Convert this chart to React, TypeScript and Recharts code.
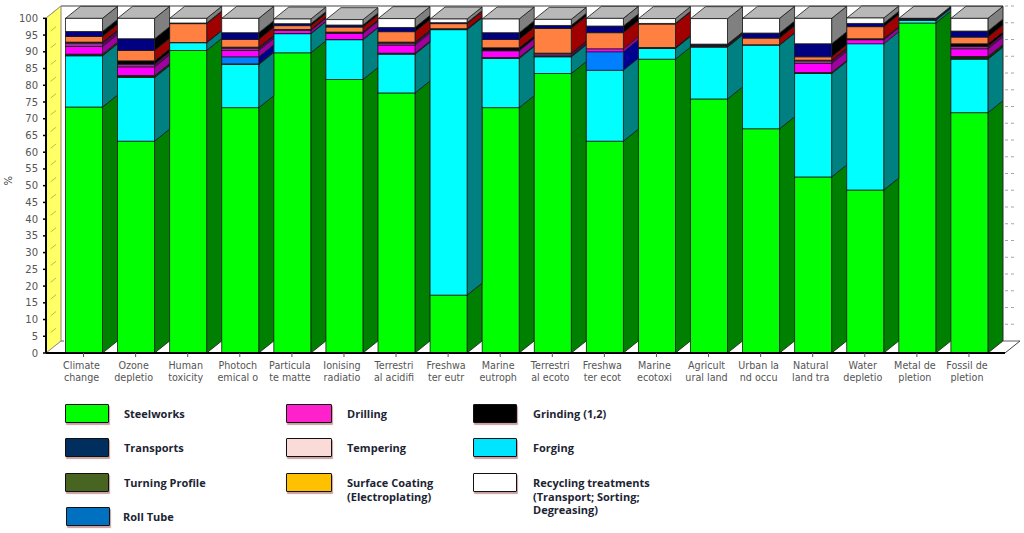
import { BarChart, Bar, XAxis, YAxis, Customized } from 'recharts'

const categories = [
  'Climate\nchange', 'Ozone\ndepletio', 'Human\ntoxicity', 'Photoch\nemical o', 'Particula\nte matte', 'Ionising\nradiatio',
  'Terrestri\nal acidifi', 'Freshwa\nter eutr', 'Marine\neutroph', 'Terrestri\nal ecoto', 'Freshwa\nter ecot', 'Marine\necotoxi',
  'Agricult\nural land', 'Urban la\nnd occu', 'Natural\nland tra', 'Water\ndepletio', 'Metal de\npletion', 'Fossil de\npletion',
]

const steelworks = [73.5, 63.3, 90.4, 73.3, 89.7, 81.7, 77.7, 17.3, 73.3, 83.5, 63.3, 87.8, 75.9, 67, 52.6, 48.7, 98.6, 71.8]
const forging = [15.3, 19, 2.3, 12.9, 5.7, 11.9, 11.6, 79.3, 14.7, 5, 21.2, 3.2, 15.5, 25, 30.9, 43.7, 0.8, 16]
const turning = [0.5, 0.6, 0, 0.2, 0.1, 0.1, 0.3, 0.2, 0.3, 0.2, 0, 0.2, 0, 0, 0.3, 0, 0, 0.8]
const rollTube = [0, 0, 0, 2.1, 0, 0, 0, 0, 0, 0, 5.5, 0, 0, 0, 0, 0, 0, 0]
const drilling = [2.3, 2.6, 0, 1.9, 0.9, 1.8, 2.4, 0, 2, 0.1, 0.9, 0, 0, 0, 2.7, 1.2, 0, 2.3]
const tempering = [1, 0.8, 0, 0.7, 0.2, 0.3, 0.6, 0, 0.2, 0.6, 0, 0, 0.3, 0, 0.8, 0.2, 0, 0.7]
const grinding = [0.3, 1, 0.1, 0.3, 0.1, 0.1, 0.3, 0.1, 0.7, 0.2, 0, 0.1, 0.3, 0.1, 0.2, 0.1, 0.2, 0.8]
const coating = [1.7, 3.1, 5.6, 2.3, 1.1, 1.5, 3.1, 1.5, 2.5, 7.4, 4.8, 7, 0, 2, 1, 3.6, 0, 2]
const transports = [1.5, 3.5, 0.2, 2, 0.6, 0.6, 1.3, 0.3, 2, 0.9, 2, 0.2, 0.3, 1.5, 3.9, 1, 0.3, 1.8]
const recycling = [3.9, 6.1, 1.4, 4.3, 1.4, 1.6, 2.6, 1.1, 4.1, 1.8, 2.3, 1.4, 7.6, 4.4, 7.6, 1.6, 0.1, 3.8]

const yTicks = [0, 5, 10, 15, 20, 25, 30, 35, 40, 45, 50, 55, 60, 65, 70, 75, 80, 85, 90, 95, 100]

const seriesList = [
  { key: 'steelworks', values: steelworks, front: '#00ff00', side: '#008000' },
  { key: 'forging', values: forging, front: '#00ffff', side: '#008080' },
  { key: 'turning', values: turning, front: '#003300', side: '#003300' },
  { key: 'rollTube', values: rollTube, front: '#0080ff', side: '#000090' },
  { key: 'drilling', values: drilling, front: '#ff00ff', side: '#a000a0' },
  { key: 'tempering', values: tempering, front: '#993399', side: '#660066' },
  { key: 'grinding', values: grinding, front: '#000000', side: '#000000' },
  { key: 'coating', values: coating, front: '#ff8040', side: '#a00000' },
  { key: 'transports', values: transports, front: '#000080', side: '#000000' },
  { key: 'recycling', values: recycling, front: '#ffffff', side: '#808080' },
]

const data = categories.map((name, i) => {
  const row: Record<string, string | number> = { name }
  seriesList.forEach((s) => { row[s.key] = s.values[i] })
  return row
})

const legendItems = [
  { label: ['Steelworks'], color: '#00ff00', left: 65, top: 404, textLeft: 124 },
  { label: ['Transports'], color: '#002f5f', left: 65, top: 438, textLeft: 124 },
  { label: ['Turning Profile'], color: '#476420', left: 65, top: 473, textLeft: 124 },
  { label: ['Roll Tube'], color: '#0070c0', left: 66, top: 507, textLeft: 123 },
  { label: ['Drilling'], color: '#ff22cc', left: 286, top: 404, textLeft: 347 },
  { label: ['Tempering'], color: '#fadbd8', left: 286, top: 438, textLeft: 347 },
  { label: ['Surface Coating', '(Electroplating)'], color: '#ffc000', left: 286, top: 473, textLeft: 347 },
  { label: ['Grinding (1,2)'], color: '#000000', left: 473, top: 404, textLeft: 533 },
  { label: ['Forging'], color: '#00e5ff', left: 473, top: 438, textLeft: 533 },
  { label: ['Recycling treatments', '(Transport; Sorting;', 'Degreasing)'], color: '#ffffff', left: 473, top: 473, textLeft: 533 },
]

const DEPTH_X = 15
const DEPTH_Y = 12
const CHART_W = 1024
const CHART_H = 400
const PLOT_LEFT = 46
const PLOT_RIGHT = 1005
const PLOT_TOP = 18
const PLOT_BOTTOM = 353
const WALL_EDGE = 1003

// front, side and (on the top series) roof of one stacked block
function Block3D(props: any) {
  const { x, y, width, height, front, side, roof } = props
  if (!height && !roof) return null
  const h = height || 0
  const r = x + width
  const b = y + h
  return (
    <g stroke="#1a1a1a" strokeWidth={0.8}>
      <polygon points={`${r},${y} ${r + DEPTH_X},${y - DEPTH_Y} ${r + DEPTH_X},${b - DEPTH_Y} ${r},${b}`} fill={side} />
      {roof && <polygon points={`${x},${y} ${x + DEPTH_X},${y - DEPTH_Y} ${r + DEPTH_X},${y - DEPTH_Y} ${r},${y}`} fill="#b8b8b8" />}
      <rect x={x} y={y} width={width} height={h} fill={front} />
    </g>
  )
}

function Walls() {
  const H = PLOT_BOTTOM - PLOT_TOP
  const backTop = PLOT_TOP - DEPTH_Y
  const backBottom = PLOT_BOTTOM - DEPTH_Y
  return (
    <g>
      <line x1={PLOT_LEFT + DEPTH_X} y1={backTop} x2={WALL_EDGE} y2={backTop} stroke="#808080" strokeWidth={1.5} />
      <line x1={WALL_EDGE} y1={backTop} x2={WALL_EDGE} y2={backBottom} stroke="#a0a0a0" />
      <line x1={WALL_EDGE} y1={backBottom} x2={PLOT_RIGHT + DEPTH_X} y2={backBottom} stroke="#606060" />
      <line x1={PLOT_RIGHT} y1={PLOT_BOTTOM} x2={PLOT_RIGHT + DEPTH_X} y2={backBottom} stroke="#404040" />
      <polygon
        points={`${PLOT_LEFT},${PLOT_TOP} ${PLOT_LEFT + DEPTH_X},${backTop} ${PLOT_LEFT + DEPTH_X},${backBottom} ${PLOT_LEFT},${PLOT_BOTTOM}`}
        fill="#ffff66"
        stroke="#908080"
      />
      <line x1={PLOT_LEFT + DEPTH_X} y1={backBottom} x2={PLOT_LEFT + DEPTH_X + 3} y2={backBottom} stroke="#606060" />
      {yTicks.slice(1).map((t) => {
        const yy = PLOT_BOTTOM - (H * t) / 100
        return (
          <g key={t} strokeWidth={0.8}>
            <line x1={PLOT_LEFT} y1={yy} x2={PLOT_LEFT + DEPTH_X} y2={yy - DEPTH_Y} stroke="#b0a840" strokeDasharray="0 6 7 20" />
            <line x1={WALL_EDGE + 2} y1={yy - DEPTH_Y} x2={WALL_EDGE + 13} y2={yy - DEPTH_Y} stroke="#909090" strokeDasharray="3 3" />
          </g>
        )
      })}
    </g>
  )
}

function CategoryTick({ x, y, payload }: any) {
  const lines = String(payload.value).split('\n')
  return (
    <text x={x - 2} y={y + 8} textAnchor="middle" fontFamily="'DejaVu Sans', sans-serif" fontSize={9.6} fill="#555555">
      {lines.map((line, i) => (
        <tspan key={i} x={x - 2} dy={i === 0 ? 2 : 12}>{line}</tspan>
      ))}
    </text>
  )
}

function ChartLegend() {
  return (
    <>
      {legendItems.map((item) => (
        <div key={item.label[0]}>
          <div
            style={{
              position: 'absolute', left: item.left, top: item.top,
              width: item.left > 200 && item.left < 400 ? 44 : 42, height: 17,
              background: item.color, border: '1px solid #111111', borderRadius: 1,
              boxShadow: '1px 2px 1px #c9a0a0',
            }}
          />
          <div
            style={{
              position: 'absolute', left: item.textLeft, top: item.top + 3,
              fontFamily: "'Open Sans', sans-serif", fontWeight: 700, fontSize: 11,
              lineHeight: '13.5px', color: '#1c2433', whiteSpace: 'nowrap',
            }}
          >
            {item.label.map((l) => <div key={l}>{l}</div>)}
          </div>
        </div>
      ))}
    </>
  )
}

export default function App() {
  return (
    <div style={{ position: 'absolute', left: 0, top: 0, width: CHART_W, height: 533, background: '#ffffff', overflow: 'hidden' }}>
      <BarChart
        width={CHART_W}
        height={CHART_H}
        data={data}
        margin={{ top: PLOT_TOP, right: CHART_W - PLOT_RIGHT, bottom: 0, left: 0 }}
      >
        <Customized component={Walls} />
        <XAxis
          dataKey="name"
          interval={0}
          height={CHART_H - PLOT_BOTTOM}
          padding={{ left: 11.5, right: 10 }}
          axisLine={{ stroke: '#000000', strokeWidth: 2 }}
          tickLine={{ stroke: '#555555' }}
          tickSize={4}
          tick={<CategoryTick />}
        />
        <YAxis
          domain={[0, 100]}
          ticks={yTicks}
          interval={0}
          width={PLOT_LEFT}
          axisLine={{ stroke: '#000000', strokeWidth: 2 }}
          tickLine={{ stroke: '#000000', strokeWidth: 1.5 }}
          tickSize={3}
          tickMargin={5}
          tick={{ fontFamily: "'DejaVu Sans', sans-serif", fontSize: 10, fill: '#555555' }}
          label={{ value: '%', angle: -90, position: 'insideLeft', offset: 8, fontFamily: "'DejaVu Sans', sans-serif", fontSize: 10, fill: '#333333' }}
        />
        {seriesList.map((s, i) => (
          <Bar
            key={s.key}
            dataKey={s.key}
            stackId="a"
            barSize={37}
            isAnimationActive={false}
            shape={(p: any) => <Block3D {...p} front={s.front} side={s.side} roof={i === seriesList.length - 1} />}
          />
        ))}
      </BarChart>
      <ChartLegend />
    </div>
  )
}
